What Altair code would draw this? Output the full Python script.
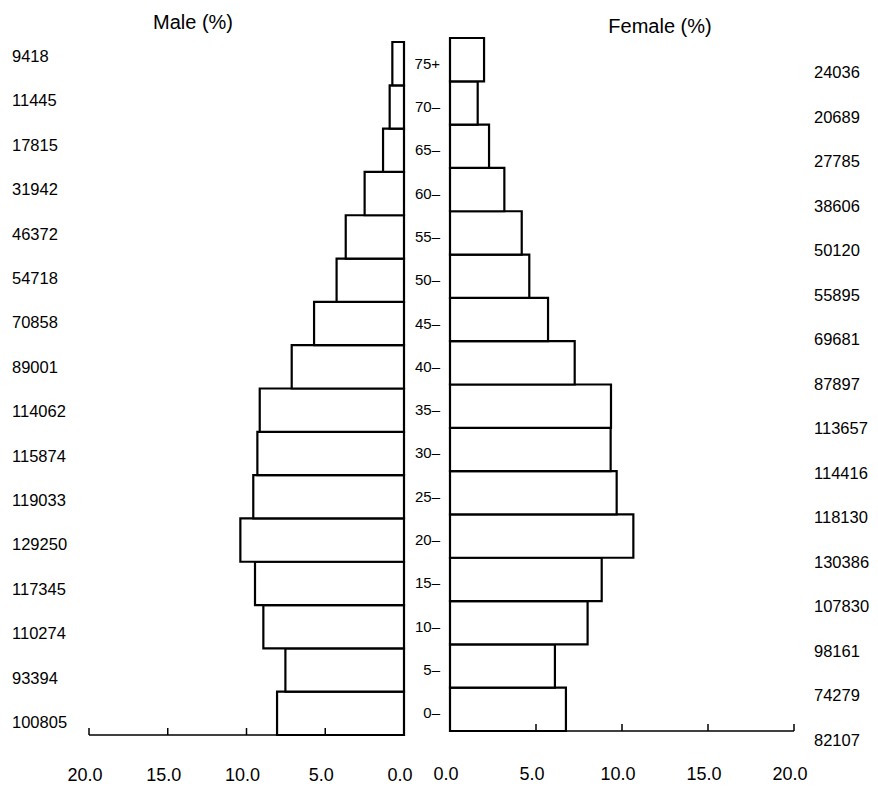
import altair as alt
import pandas as pd

# Age groups, bottom (0-) to top (75+)
ages = ["0–", "5–", "10–", "15–", "20–", "25–", "30–", "35–",
        "40–", "45–", "50–", "55–", "60–", "65–", "70–", "75+"]
male_pct = [8.06, 7.53, 8.93, 9.46, 10.39, 9.57, 9.31, 9.16,
            7.13, 5.71, 4.28, 3.70, 2.50, 1.33, 0.91, 0.74]
female_pct = [6.74, 6.10, 8.00, 8.82, 10.66, 9.69, 9.34, 9.36,
              7.25, 5.70, 4.61, 4.17, 3.16, 2.27, 1.61, 1.98]
male_counts = [100805, 93394, 110274, 117345, 129250, 119033, 115874, 114062,
               89001, 70858, 54718, 46372, 31942, 17815, 11445, 9418]
female_counts = [82107, 74279, 98161, 107830, 130386, 118130, 114416, 113657,
                 87897, 69681, 55895, 50120, 38606, 27785, 20689, 24036]
x_ticks = [0.0, 5.0, 10.0, 15.0, 20.0]
male_title = "Male (%)"
female_title = "Female (%)"

FONT = "Liberation Sans, Arial, sans-serif"
W, H = 862, 776

n = len(ages)
df = pd.DataFrame({
    "age": ages,
    "idx": list(range(n)),
    "lo": list(range(n)),
    "hi": [i + 1 for i in range(n)],
    "mid": [i + 0.5 for i in range(n)],
    "male": male_pct,
    "female": female_pct,
    "mc": [str(c) for c in male_counts],
    "fc": [str(c) for c in female_counts],
})
ticks_df = pd.DataFrame({"t": x_ticks})
ends_df = pd.DataFrame({"a": [0.0], "b": [20.0]})


def side(field, counts_field, xrange, yrange, axis_y, label_y, cnt_range, cnt_x,
         title, title_xy):
    xs = alt.Scale(domain=[0, 20], range=xrange, nice=False, zero=False)
    ys = alt.Scale(domain=[0, n], range=yrange, nice=False, zero=False)
    bars = alt.Chart(df).mark_rect(fill="white", stroke="black", strokeWidth=2.2).encode(
        x=alt.X(f"{field}:Q", scale=xs, axis=None),
        x2=alt.datum(0),
        y=alt.Y("lo:Q", scale=ys, axis=None),
        y2="hi:Q",
    )
    domain_line = alt.Chart(ends_df).mark_rule(color="black", strokeWidth=1.5).encode(
        x=alt.X("a:Q", scale=xs, axis=None),
        x2="b:Q",
        y=alt.value(axis_y),
    )
    tks = alt.Chart(ticks_df).mark_rule(color="black", strokeWidth=1.5).encode(
        x=alt.X("t:Q", scale=xs, axis=None),
        y=alt.value(axis_y - 7),
        y2=alt.value(axis_y),
    )
    tlabels = alt.Chart(ticks_df).mark_text(
        align="center", baseline="middle", font=FONT, fontSize=18, color="black", dx=-4
    ).encode(
        x=alt.X("t:Q", scale=xs, axis=None),
        y=alt.value(label_y),
        text=alt.Text("t:Q", format=".1f"),
    )
    cnts = alt.Chart(df).mark_text(align="left", baseline="middle", font=FONT,
                                   fontSize=16.5, color="black").encode(
        x=alt.value(cnt_x),
        y=alt.Y("idx:Q", scale=alt.Scale(domain=[0, n - 1], range=cnt_range,
                                          nice=False, zero=False), axis=None),
        text=f"{counts_field}:N",
    )
    ttl = alt.Chart(pd.DataFrame({"t": [title]})).mark_text(
        align="center", baseline="middle", font=FONT, fontSize=20, color="black").encode(
        x=alt.value(title_xy[0]), y=alt.value(title_xy[1]), text="t:N")
    return [bars, domain_line, tks, tlabels, cnts, ttl], ys


male_layers, ys_m = side("male", "mc", [396, 81], [727, 34], 727, 768,
                         [715, 49], 4, male_title, (185, 15))
female_layers, _ = side("female", "fc", [442, 786], [723, 30], 723, 767,
                        [733, 65], 806, female_title, (652, 19))

age_labels = alt.Chart(df).mark_text(align="right", baseline="middle", font=FONT,
                                     fontSize=15, color="black").encode(
    x=alt.value(432),
    y=alt.Y("mid:Q", scale=ys_m, axis=None),
    text="age:N",
)

chart = alt.layer(*male_layers, *female_layers, age_labels).resolve_scale(
    x="independent", y="independent"
).properties(
    width=W, height=H, padding=0, background="white",
    autosize=alt.AutoSizeParams(type="none", contains="padding"),
).configure_view(stroke=None)

chart.save("out.html", embed_options={"renderer": "svg", "actions": False})
